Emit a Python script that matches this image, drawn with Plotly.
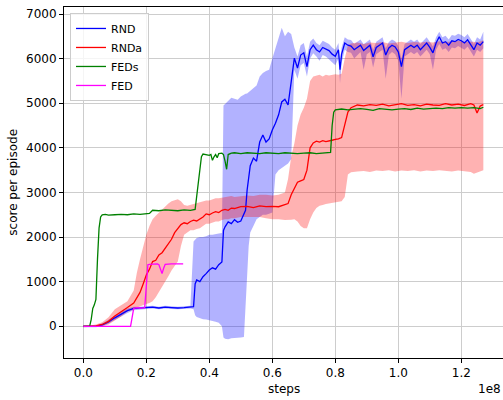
import plotly.graph_objects as go

# ---------------- data (steps in units of 1e8) ----------------
# RND (blue)
rnd_x = [0.00, 0.04, 0.06, 0.08, 0.10, 0.12, 0.14, 0.16, 0.18, 0.20, 0.22, 0.24, 0.26, 0.28, 0.30, 0.32, 0.34,
         0.35, 0.355, 0.36, 0.37, 0.38, 0.39, 0.40, 0.41, 0.42, 0.43, 0.44, 0.445, 0.45, 0.46, 0.47, 0.48, 0.49,
         0.50, 0.51, 0.515, 0.52, 0.525, 0.53, 0.54, 0.55, 0.56, 0.57, 0.58, 0.59, 0.60, 0.61, 0.62, 0.63, 0.64,
         0.65, 0.66,
         0.67, 0.68, 0.69, 0.70, 0.71, 0.72, 0.73, 0.74, 0.75, 0.76, 0.77, 0.78, 0.79, 0.80, 0.81,
         0.815,
         0.82, 0.83, 0.84, 0.85, 0.86, 0.87, 0.88, 0.89, 0.90, 0.91, 0.92, 0.93, 0.94, 0.95, 0.96, 0.97,
         0.98, 0.99, 1.00, 1.01, 1.02, 1.03, 1.04, 1.05, 1.06, 1.07, 1.08, 1.09, 1.10, 1.11, 1.12, 1.13, 1.14,
         1.15, 1.16, 1.17, 1.18, 1.19, 1.20, 1.21, 1.22, 1.23, 1.24, 1.25, 1.26, 1.27]
rnd_mean = [0, 0, 30, 100, 190, 270, 350, 400, 410, 420, 430, 410, 430, 420, 410, 420, 430,
            440, 950, 1040, 1000, 1110, 1180, 1260, 1310, 1280, 1380, 1440, 2150, 2230, 2340, 2300, 2390, 2330,
            2360, 2540, 2600, 3050, 3300, 3600, 3770, 3700, 4130, 4290, 4130, 4200, 4400, 4550, 4740, 5030, 5090,
            4960, 5480,
            6010, 5790, 6080, 6130, 5820, 6200, 6300, 6200, 6150, 6250, 6220, 6180, 6100, 6050, 6200,
            5750,
            6100, 6350, 6300, 6280, 6200, 6250, 6300, 6180, 6250, 6300, 6040, 6250, 6300, 6350, 6080, 6240,
            6300, 6260, 6150, 5820, 6200, 6260, 6300, 6250, 6300, 6200, 6280, 6350, 6250, 6130, 6350, 6490, 6350,
            6380, 6300, 6400, 6380, 6430, 6400, 6350, 6420, 6300, 6200, 6350, 6300, 6380]
rnd_lo = [-20, -20, 0, 60, 140, 220, 300, 360, 380, 390, 400, 380, 400, 390, 380, 390, 400,
          380, 250, 210, 180, 160, 150, 140, 120, 100, 80, 0, -250, -280, -290, -270, -260, -250,
          -250, -240, 300, 1000, 1800, 2100, 2250, 2400, 2450, 2500, 2500, 2520, 2550, 3400, 3500, 3550, 3600,
          3650, 3750,
          5750, 5550, 5850, 5900, 5600, 6000, 6120, 6050, 5950, 6080, 6050, 6000, 5920, 5850, 6000,
          5450,
          5900, 6200, 6150, 6130, 6000, 6080, 6150, 5750, 6100, 6150, 5800, 6100, 6150, 6200, 5550, 6080,
          6150, 6100, 5950, 5100, 6050, 6100, 6150, 6100, 6150, 6050, 6120, 6200, 6100, 5750, 6200, 6330, 6200,
          6230, 6150, 6250, 6230, 6280, 6250, 6200, 6270, 6150, 6050, 6200, 6150, 6230]
rnd_hi = [20, 20, 60, 150, 240, 320, 400, 440, 440, 450, 460, 440, 460, 450, 440, 450, 460,
          1900, 1950, 1980, 2000, 2000, 2020, 2050, 2050, 2070, 2080, 2090, 4950, 4980, 5050, 5120, 5100, 5080,
          5150, 5200, 5210, 5220, 5250, 5300, 5350, 5400, 5600, 5680, 5720, 5750, 6000, 6240, 6500, 6690, 6500,
          6600, 6550,
          6250, 6050, 6300, 6350, 6050, 6380, 6450, 6350, 6300, 6400, 6370, 6330, 6250, 6200, 6350,
          5950,
          6250, 6480, 6430, 6420, 6330, 6380, 6430, 6320, 6380, 6430, 6200, 6380, 6430, 6480, 6230, 6370,
          6430, 6390, 6290, 6000, 6330, 6390, 6430, 6380, 6430, 6330, 6410, 6480, 6380, 6270, 6480, 6600, 6480,
          6510, 6430, 6530, 6510, 6560, 6530, 6480, 6550, 6430, 6330, 6480, 6430, 6600]

# RNDa (red)
rnda_x = [0.00, 0.02, 0.04, 0.06, 0.08, 0.10, 0.12, 0.14, 0.16, 0.17, 0.18, 0.19, 0.20, 0.21, 0.22, 0.23, 0.24,
          0.25, 0.26, 0.27, 0.28, 0.29, 0.30, 0.31, 0.32, 0.33, 0.34, 0.35, 0.36, 0.37, 0.38, 0.39, 0.40, 0.41,
          0.42, 0.43, 0.44, 0.45, 0.46, 0.47, 0.48, 0.50, 0.52, 0.54, 0.56, 0.58, 0.60, 0.62, 0.64, 0.65, 0.66,
          0.67, 0.68, 0.69, 0.70, 0.71, 0.72, 0.73, 0.74, 0.75, 0.76, 0.77, 0.78, 0.79, 0.80, 0.81, 0.82, 0.83,
          0.84, 0.85, 0.87, 0.89, 0.91, 0.93, 0.95, 0.97, 0.99, 1.01, 1.03, 1.05, 1.07, 1.09, 1.11, 1.13, 1.15,
          1.17, 1.19, 1.21, 1.23, 1.24, 1.25, 1.26, 1.27]
rnda_mean = [0, 0, 10, 40, 110, 230, 320, 420, 520, 650, 760, 950, 1150, 1280, 1450, 1480, 1600,
             1650, 1760, 1850, 1950, 2100, 2200, 2280, 2320, 2300, 2350, 2380, 2360, 2400, 2450, 2520, 2500, 2540,
             2570, 2550, 2600, 2620, 2600, 2650, 2640, 2680, 2690, 2660, 2700, 2680, 2690, 2680, 2720, 2750, 2950,
             3100, 3230, 3260, 3290, 3500, 4000, 4110, 4150, 4130, 4160, 4140, 4150, 4170, 4190, 4200, 4230, 4500,
             4800, 4900, 4960, 4940, 4970, 4950, 4980, 4940, 4960, 4990, 4950, 4970, 4940, 4980, 4960, 4950, 4990,
             4960, 4980, 4950, 4990, 4960, 4780, 4940, 4970]
rnda_lo = [-20, -20, -10, 0, 40, 120, 220, 330, 370, 420, 450, 470, 500, 520, 560, 650, 750,
           880, 1000, 1120, 1250, 1350, 1450, 1800, 2050, 2100, 2150, 2150, 2180, 2200, 2250, 2300, 2300, 2320,
           2350, 2350, 2380, 2400, 2400, 2420, 2420, 2450, 2450, 2450, 2450, 2420, 2400, 2400, 2380, 2380, 2390,
           2400, 2350, 2250, 2200, 2200, 2400, 2550, 2650, 2700, 2720, 2740, 2760, 2770, 2780, 2790, 2800, 2900,
           3400, 3450, 3470, 3480, 3460, 3490, 3480, 3500, 3470, 3490, 3480, 3500, 3470, 3490, 3480, 3500, 3490,
           3470, 3490, 3480, 3460, 3420, 3440, 3470, 3500]
rnda_hi = [20, 20, 40, 90, 200, 380, 470, 560, 800, 1200, 1500, 1800, 2050, 2250, 2400, 2480, 2550,
           2620, 2700, 2750, 2800, 2830, 2850, 2800, 2720, 2700, 2720, 2740, 2760, 2780, 2800, 2820, 2820, 2850,
           2870, 2870, 2880, 2900, 2900, 2920, 2900, 2920, 2930, 2920, 2950, 2950, 2930, 2950, 3000, 3300, 3800,
           4100, 4500, 4750, 4900, 5100, 5500, 5600, 5620, 5640, 5600, 5640, 5620, 5630, 5650, 5640, 5660, 6000,
           6300, 6340, 6360, 6330, 6360, 6350, 6370, 6340, 6360, 6380, 6350, 6370, 6360, 6380, 6360, 6390, 6370,
           6380, 6400, 6380, 6390, 6380, 6360, 6390, 6410]

# FEDs (green)
feds_x = [0.00, 0.02, 0.025, 0.03, 0.035, 0.04, 0.045, 0.05, 0.055, 0.06, 0.07, 0.08, 0.10, 0.12, 0.14, 0.16,
          0.18, 0.20, 0.21, 0.22, 0.24, 0.26, 0.28, 0.30, 0.32, 0.34, 0.355, 0.36, 0.37, 0.375, 0.38, 0.39, 0.40,
          0.405, 0.41, 0.415, 0.42, 0.425, 0.43, 0.44, 0.445, 0.45, 0.455, 0.46, 0.47, 0.48, 0.50, 0.52, 0.54,
          0.56, 0.58, 0.60, 0.62, 0.64, 0.66, 0.68, 0.70, 0.72, 0.74, 0.76, 0.78, 0.785, 0.79, 0.795, 0.80, 0.82,
          0.84, 0.86, 0.88, 0.90, 0.92, 0.94, 0.96, 0.98, 1.00, 1.02, 1.04, 1.06, 1.08, 1.10, 1.12, 1.14, 1.16,
          1.18, 1.20, 1.22, 1.24, 1.26, 1.27]
feds_y = [0, 0, 150, 400, 480, 600, 1500, 2200, 2450, 2500, 2510, 2490, 2500, 2510, 2500, 2520,
          2510, 2520, 2530, 2600, 2590, 2610, 2600, 2590, 2610, 2600, 2620, 2900, 3400, 3800, 3860, 3850, 3830,
          3850, 3720, 3800, 3850, 3780, 3870, 3880, 3850, 3700, 3520, 3850, 3880, 3890, 3870, 3890, 3880,
          3870, 3890, 3880, 3870, 3890, 3880, 3870, 3880, 3890, 3870, 3880, 3890, 3900, 4500, 4800, 4850, 4870,
          4850, 4870, 4880, 4860, 4840, 4880, 4870, 4850, 4870, 4880, 4860, 4890, 4870, 4880, 4890, 4880, 4900,
          4890, 4900, 4890, 4900, 4880, 4910]

# FED (magenta)
fed_x = [0.00, 0.15, 0.155, 0.16, 0.17, 0.18, 0.195, 0.20, 0.205, 0.21, 0.22, 0.235, 0.24, 0.245, 0.25,
         0.255, 0.26, 0.28, 0.30, 0.317]
fed_y = [0, 0, 200, 400, 420, 410, 420, 900, 1380, 1390, 1390, 1400, 1380, 1250, 1180, 1300, 1390, 1400,
         1400, 1400]

x_ticks = [0.0, 0.2, 0.4, 0.6, 0.8, 1.0, 1.2]
y_ticks = [0, 1000, 2000, 3000, 4000, 5000, 6000, 7000]

FONT = "DejaVu Sans"
fig = go.Figure()


def band(x, lo, hi, color):
    fig.add_trace(go.Scatter(x=list(x) + list(x)[::-1], y=list(hi) + list(lo)[::-1],
                             fill="toself", fillcolor=color, line=dict(width=0),
                             mode="lines", hoverinfo="skip", showlegend=False))


band(rnd_x, rnd_lo, rnd_hi, "rgba(0,0,255,0.3)")
band(rnda_x, rnda_lo, rnda_hi, "rgba(255,0,0,0.3)")

fig.add_trace(go.Scatter(x=rnd_x, y=rnd_mean, mode="lines", name="RND", line=dict(color="#0000ff", width=1.3)))
fig.add_trace(go.Scatter(x=rnda_x, y=rnda_mean, mode="lines", name="RNDa", line=dict(color="#ff0000", width=1.3)))
fig.add_trace(go.Scatter(x=feds_x, y=feds_y, mode="lines", name="FEDs", line=dict(color="#008000", width=1.3)))
fig.add_trace(go.Scatter(x=fed_x, y=fed_y, mode="lines", name="FED", line=dict(color="#ff00ff", width=1.3)))

fig.update_layout(
    width=503, height=400,
    margin=dict(l=64, r=0, t=7, b=42),
    paper_bgcolor="white", plot_bgcolor="white",
    font=dict(family=FONT, size=12, color="#000000"),
    showlegend=True,
    legend=dict(x=0.0137, y=0.983, xanchor="left", yanchor="top",
                bgcolor="rgba(255,255,255,0.8)", bordercolor="#cccccc", borderwidth=1,
                font=dict(family=FONT, size=11), tracegroupgap=0),
    xaxis=dict(range=[-0.0613, 1.3324], tickvals=x_ticks, ticktext=[f"{v:.1f}" for v in x_ticks],
               showgrid=True, gridcolor="#cdcdcd", gridwidth=1, zeroline=False,
               showline=True, linecolor="black", linewidth=1, mirror=True,
               ticks="outside", ticklen=4, tickcolor="black", tickfont=dict(size=12)),
    yaxis=dict(range=[-711, 7157], tickvals=y_ticks, ticktext=[str(v) for v in y_ticks],
               showgrid=True, gridcolor="#cdcdcd", gridwidth=1, zeroline=False,
               showline=True, linecolor="black", linewidth=1, mirror=False,
               ticks="outside", ticklen=4, tickcolor="black", tickfont=dict(size=12)),
    annotations=[
        dict(text="steps", x=0.5, y=-0.088, xref="paper", yref="paper", xanchor="center", yanchor="middle",
             showarrow=False, font=dict(size=12)),
        dict(text="1e8", x=1.0, y=-0.088, xref="paper", yref="paper", xanchor="right", yanchor="middle",
             showarrow=False, font=dict(size=12)),
        dict(text="score per episode", x=-0.118, y=0.5, xref="paper", yref="paper", xanchor="center",
             yanchor="middle", textangle=-90, showarrow=False, font=dict(size=12)),
    ],
)

fig.write_html("out.html")
